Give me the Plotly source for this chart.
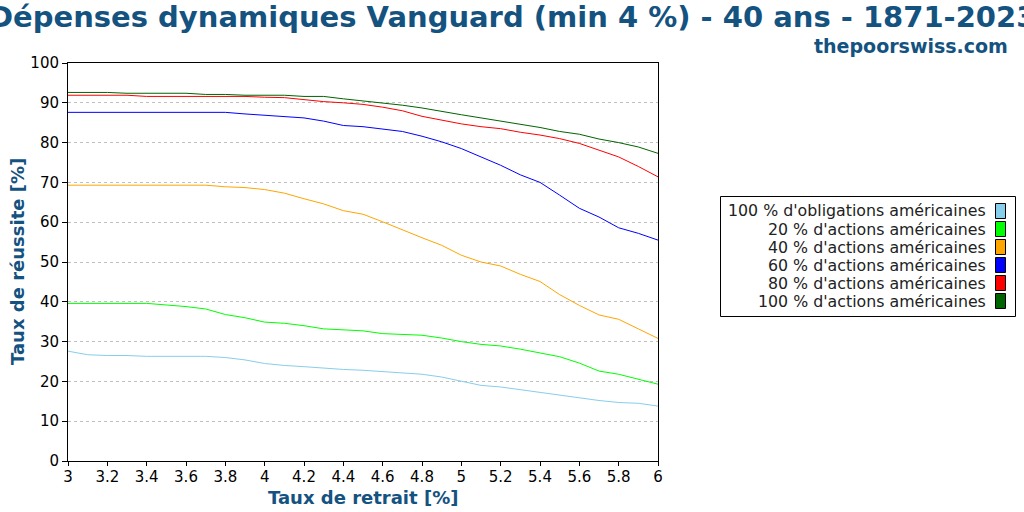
import plotly.graph_objects as go

x_vals = [round(3 + 0.1 * i, 1) for i in range(31)]

bonds100 = [27.6, 26.7, 26.5, 26.5, 26.3, 26.3, 26.3, 26.3, 26.0, 25.4, 24.5, 24.0, 23.7, 23.3, 23.0, 22.8,
            22.5, 22.2, 21.8, 21.1, 20.0, 19.0, 18.6, 17.9, 17.3, 16.6, 15.9, 15.2, 14.7, 14.5, 13.8]
stocks20 = [39.6, 39.6, 39.6, 39.6, 39.6, 39.2, 38.8, 38.2, 36.8, 36.0, 34.9, 34.6, 34.0, 33.2, 32.9, 32.7,
            32.0, 31.8, 31.6, 30.9, 30.0, 29.3, 28.9, 28.1, 27.1, 26.2, 24.6, 22.6, 21.8, 20.6, 19.3]
stocks40 = [69.3, 69.3, 69.3, 69.3, 69.3, 69.3, 69.3, 69.3, 68.9, 68.7, 68.2, 67.3, 65.9, 64.6, 62.9, 62.0,
            60.1, 58.0, 56.1, 54.2, 51.7, 50.0, 49.0, 46.9, 45.1, 41.8, 39.1, 36.7, 35.6, 33.2, 30.8]
stocks60 = [87.6, 87.6, 87.6, 87.6, 87.6, 87.6, 87.6, 87.6, 87.6, 87.2, 86.9, 86.5, 86.2, 85.4, 84.3, 84.0,
            83.4, 82.8, 81.6, 80.2, 78.5, 76.4, 74.3, 71.9, 70.0, 66.8, 63.5, 61.3, 58.6, 57.2, 55.5]
stocks80 = [91.9, 91.9, 91.9, 91.9, 91.6, 91.6, 91.6, 91.6, 91.6, 91.6, 91.4, 91.3, 90.8, 90.3, 90.0, 89.6,
            88.9, 88.0, 86.6, 85.6, 84.7, 84.0, 83.5, 82.6, 81.9, 81.0, 79.8, 78.1, 76.4, 74.0, 71.4]
stocks100 = [92.6, 92.6, 92.6, 92.4, 92.4, 92.4, 92.4, 92.1, 92.1, 91.9, 91.9, 91.9, 91.6, 91.6, 91.0, 90.5,
             89.9, 89.4, 88.7, 87.8, 87.0, 86.2, 85.4, 84.6, 83.8, 82.8, 82.1, 80.9, 80.0, 78.9, 77.3]

series_names = [
    "100 % d'obligations américaines",
    "20 % d'actions américaines",
    "40 % d'actions américaines",
    "60 % d'actions américaines",
    "80 % d'actions américaines",
    "100 % d'actions américaines",
]
series_values = [bonds100, stocks20, stocks40, stocks60, stocks80, stocks100]
series_colors = ["#87ceeb", "#00ff00", "#ffa500", "#0000ff", "#ff0000", "#006400"]

x_ticks = [3, 3.2, 3.4, 3.6, 3.8, 4, 4.2, 4.4, 4.6, 4.8, 5, 5.2, 5.4, 5.6, 5.8, 6]
y_ticks = list(range(0, 101, 10))

TITLE = "Dépenses dynamiques Vanguard (min 4 %) - 40 ans - 1871-2023"
SUBTITLE = "thepoorswiss.com"
X_TITLE = "Taux de retrait [%]"
Y_TITLE = "Taux de réussite [%]"
BLUE = "#14527f"
FONT = "DejaVu Sans"

W, H = 1024, 512
L, R, T, B = 68, 366, 63, 51
PW, PH = W - L - R, H - T - B


def px_to_paper_x(px):
    return (px - L) / PW


def px_to_paper_y(py):
    return (H - B - py) / PH


fig = go.Figure()
for name, vals, col in zip(series_names, series_values, series_colors):
    fig.add_trace(go.Scatter(x=x_vals, y=vals, mode="lines", name=name,
                             line=dict(color=col, width=1), showlegend=False))

shapes = []
annotations = []

# legend box
shapes.append(dict(type="rect", xref="paper", yref="paper",
                   x0=px_to_paper_x(720.5), x1=px_to_paper_x(1015.5),
                   y0=px_to_paper_y(316.5), y1=px_to_paper_y(196.5),
                   line=dict(color="black", width=1), fillcolor="white"))
for i, (name, col) in enumerate(zip(series_names, series_colors)):
    cy = 211 + 18 * i
    shapes.append(dict(type="rect", xref="paper", yref="paper",
                       x0=px_to_paper_x(995.5), x1=px_to_paper_x(1005.5),
                       y0=px_to_paper_y(cy + 7.5), y1=px_to_paper_y(cy - 7.5),
                       line=dict(color="black", width=1), fillcolor=col))
    annotations.append(dict(text=name, xref="paper", yref="paper",
                            x=px_to_paper_x(988), y=px_to_paper_y(cy),
                            xanchor="right", yanchor="middle", showarrow=False,
                            font=dict(family=FONT, size=15.8, color="#222222")))

annotations.append(dict(text="<b>" + TITLE + "</b>", xref="paper", yref="paper",
                        x=px_to_paper_x(512), y=px_to_paper_y(17),
                        xanchor="center", yanchor="middle", showarrow=False,
                        font=dict(family=FONT, size=29, color=BLUE)))
annotations.append(dict(text="<b>" + SUBTITLE + "</b>", xref="paper", yref="paper",
                        x=px_to_paper_x(1010), y=px_to_paper_y(46),
                        xanchor="right", yanchor="middle", showarrow=False,
                        font=dict(family=FONT, size=19, color=BLUE)))
annotations.append(dict(text="<b>" + X_TITLE + "</b>", xref="paper", yref="paper",
                        x=px_to_paper_x(363), y=px_to_paper_y(497),
                        xanchor="center", yanchor="middle", showarrow=False,
                        font=dict(family=FONT, size=18, color=BLUE)))
annotations.append(dict(text="<b>" + Y_TITLE + "</b>", xref="paper", yref="paper",
                        x=px_to_paper_x(17), y=px_to_paper_y(262),
                        xanchor="center", yanchor="middle", showarrow=False, textangle=-90,
                        font=dict(family=FONT, size=18, color=BLUE)))

fig.update_layout(
    width=W, height=H,
    margin=dict(l=L, r=R, t=T, b=B),
    paper_bgcolor="white", plot_bgcolor="white",
    font=dict(family=FONT, size=15, color="black"),
    shapes=shapes, annotations=annotations,
    xaxis=dict(range=[3, 6], tickvals=x_ticks, ticktext=[f"{v:g}" for v in x_ticks],
               showline=True, linecolor="black", linewidth=1, mirror=True, automargin=False,
               ticks="outside", ticklen=4, tickcolor="black", showgrid=False, zeroline=False,
               ticklabelstandoff=-2,
               tickfont=dict(family=FONT, size=15, color="black")),
    yaxis=dict(range=[0, 100], tickvals=y_ticks, automargin=False,
               showline=True, linecolor="black", linewidth=1, mirror=True,
               ticks="outside", ticklen=5, tickcolor="black",
               showgrid=True, gridcolor="#c0c0c0", griddash="dot", gridwidth=1, zeroline=False,
               tickfont=dict(family=FONT, size=15, color="black")),
)

fig.write_html("out.html")
